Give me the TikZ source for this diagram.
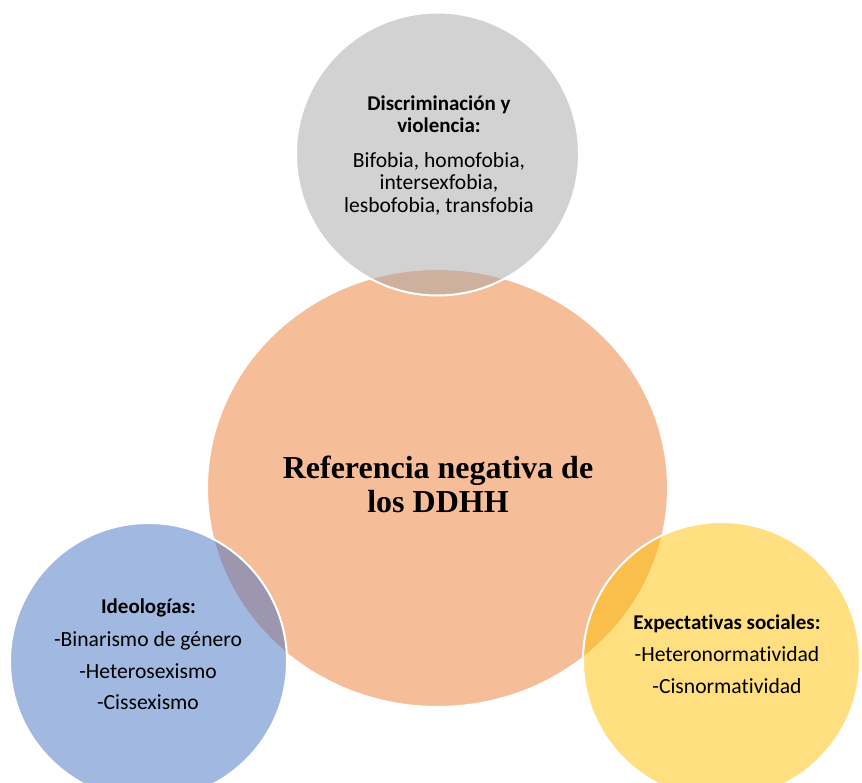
\documentclass[tikz,border=0pt]{standalone}
\usepackage{fontspec}
\setmainfont{Carlito}[Ligatures=NoCommon, RawFeature={-calt;-dlig}]
\newfontfamily\serifrm{Liberation Serif}
\usetikzlibrary{shapes.geometric}
\definecolor{corange}{HTML}{ED7D31}
\definecolor{cgray}{HTML}{A5A5A5}
\definecolor{cblue}{HTML}{4472C4}
\definecolor{cyellow}{HTML}{FFC000}
\begin{document}
\begin{tikzpicture}[x=1pt,y=-1pt,
  bubble/.style={fill opacity=0.5, draw=white, draw opacity=1, line width=2pt, inner sep=0pt},
  ln/.style={anchor=base, inner sep=0pt, font=\fontsize{21.6}{25}\selectfont},
  hd/.style={anchor=base, inner sep=0pt, font=\fontsize{21}{25}\selectfont\bfseries},
  titletext/.style={anchor=base, inner sep=0pt, font=\fontsize{32}{34}\selectfont\serifrm\bfseries}]
\useasboundingbox (0,0) rectangle (862,782);
\begin{scope}
\clip (0,0) rectangle (862,782);
\node[bubble, ellipse, minimum width=461pt, minimum height=438pt, fill=corange] (ref) at (437.5,488) {};
\node[bubble, circle, minimum size=283pt, fill=cgray] (disc) at (437.5,154) {};
\node[bubble, circle, minimum size=277pt, fill=cblue] (ideo) at (148.5,661.5) {};
\node[bubble, circle, minimum size=277pt, fill=cyellow] (expe) at (721.5,660.5) {};
\end{scope}
% centre
\node[titletext] (t1) at (438,478) {Referencia negativa de};
\node[titletext] (t2) at (438,512) {los DDHH};
% top
\node[hd] (d1) at (439,110) {Discriminación y};
\node[hd] (d2) at (439,132) {violencia:};
\node[ln] (d3) at (439,167) {Bifobia, homofobia,};
\node[ln] (d4) at (439,189) {intersexfobia,};
\node[ln] (d5) at (439,212) {lesbofobia, transfobia};
% left
\node[hd] (i1) at (148.5,613) {Ideologías:};
\node[ln] (i2) at (148,646) {-Binarismo de género};
\node[ln] (i3) at (148,678) {-Heterosexismo};
\node[ln] (i4) at (148,709) {-Cissexismo};
% right
\node[hd] (e1) at (727,629) {Expectativas sociales:};
\node[ln] (e2) at (727,661) {-Heteronormatividad};
\node[ln] (e3) at (727,693) {-Cisnormatividad};
\end{tikzpicture}
\end{document}
